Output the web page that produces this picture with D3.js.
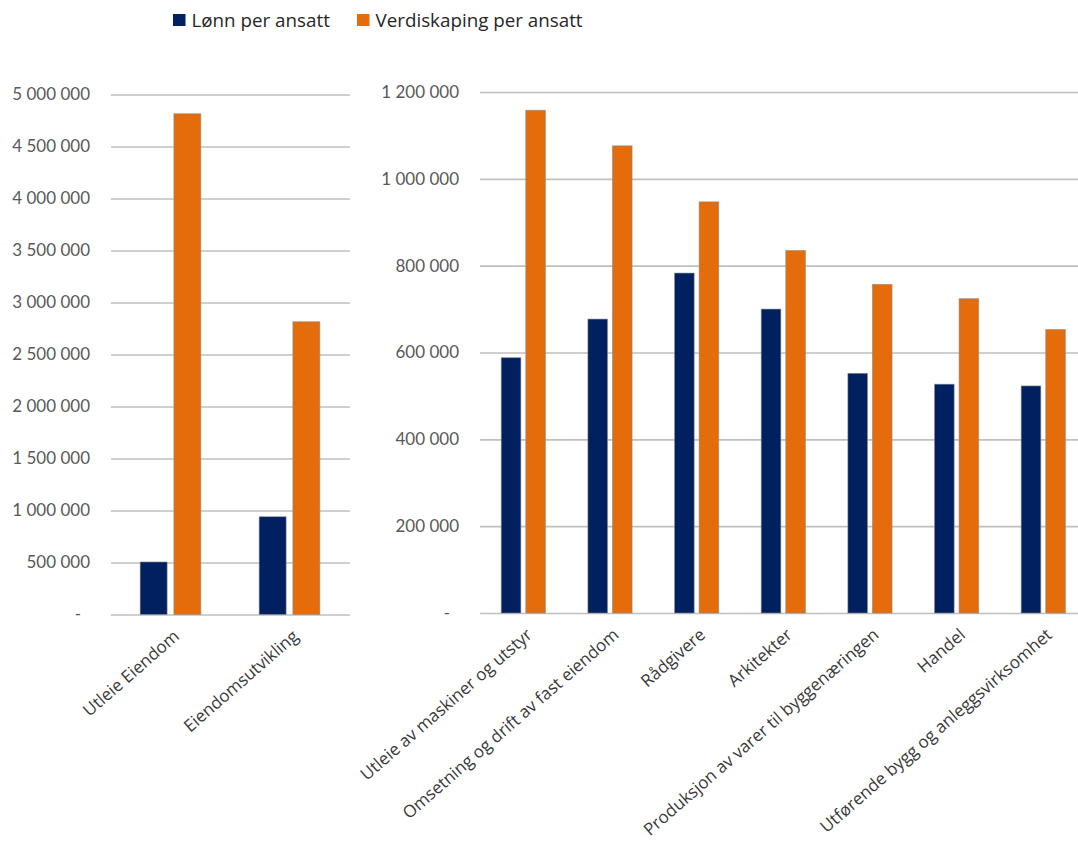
<!DOCTYPE html>
<html>
<head>
<meta charset="utf-8">
<script src="https://cdn.jsdelivr.net/npm/d3@7"></script>
<style>
  body { margin: 0; background: #fff; }
  text { font-family: Lato, 'Open Sans', sans-serif; }
  .cat, .legend text { font-family: 'Open Sans', Lato, sans-serif; }
</style>
</head>
<body>
<div id="chart"></div>
<script>
  // Data
  var seriesNames = ['Lønn per ansatt', 'Verdiskaping per ansatt'];
  var seriesColors = ['#002060', '#e46c0a'];

  var leftCategories = ['Utleie Eiendom', 'Eiendomsutvikling'];
  var leftLonn = [505000, 940000];
  var leftVerdi = [4815000, 2815000];
  var leftTicks = [0, 500000, 1000000, 1500000, 2000000, 2500000, 3000000, 3500000, 4000000, 4500000, 5000000];

  var rightCategories = ['Utleie av maskiner og utstyr', 'Omsetning og drift av fast eiendom', 'Rådgivere',
    'Arkitekter', 'Produksjon av varer til byggenæringen', 'Handel', 'Utførende bygg og anleggsvirksomhet'];
  var rightLonn = [588000, 677000, 783000, 700000, 552000, 527000, 523000];
  var rightVerdi = [1158000, 1076000, 947000, 835000, 757000, 724000, 653000];
  var rightTicks = [0, 200000, 400000, 600000, 800000, 1000000, 1200000];

  var width = 1078;
  var height = 847;

  var locale = d3.formatLocale({ decimal: ',', thousands: '\u00a0', grouping: [3], currency: ['', ''] });
  var fmt = locale.format(',d');

  var svg = d3.select('#chart').append('svg')
    .attr('width', width)
    .attr('height', height);

  function panel(opts) {
    var x0 = d3.scaleBand()
      .domain(opts.categories)
      .range([opts.left, opts.right])
      .paddingInner(0.49)
      .paddingOuter(0.245);

    var x1 = d3.scaleBand()
      .domain([0, 1])
      .range([0, x0.bandwidth()])
      .paddingInner(0.2);

    var y = d3.scaleLinear()
      .domain([0, opts.max])
      .range([opts.bottom, opts.top]);

    var g = svg.append('g');

    // Gridlines + tick labels
    var yAxis = g.append('g')
      .attr('transform', 'translate(' + opts.left + ',0)')
      .call(d3.axisLeft(y)
        .tickValues(opts.ticks)
        .tickSize(-(opts.gridRight - opts.left))
        .tickPadding(21)
        .tickFormat(function (d) { return d === 0 ? '-' : fmt(d); }));
    yAxis.select('.domain').remove();
    yAxis.selectAll('.tick line')
      .attr('stroke', '#bfbfbf')
      .attr('stroke-width', 1.6);
    yAxis.selectAll('.tick text')
      .attr('fill', '#595959')
      .style('font-size', '17px')
      .attr('dx', function (d) { return d === 0 ? -9 : 0; });

    // Bars
    var rows = opts.categories.map(function (c, i) {
      return { cat: c, values: [opts.lonn[i], opts.verdi[i]] };
    });

    var group = g.selectAll('.group')
      .data(rows)
      .enter()
      .append('g')
      .attr('class', 'group')
      .attr('transform', function (d) { return 'translate(' + x0(d.cat) + ',0)'; });

    group.selectAll('rect')
      .data(function (d) { return d.values; })
      .enter()
      .append('rect')
      .attr('x', function (d, i) { return x1(i); })
      .attr('y', function (d) { return y(d); })
      .attr('width', x1.bandwidth())
      .attr('height', function (d) { return y(0) - y(d); })
      .attr('fill', function (d, i) { return seriesColors[i]; })
      .attr('stroke', 'rgba(140,140,140,0.7)')
      .attr('stroke-width', 0.8);

    // Category labels
    g.selectAll('.cat')
      .data(opts.categories)
      .enter()
      .append('text')
      .attr('class', 'cat')
      .attr('transform', function (d) {
        return 'translate(' + (x0(d) + x0.bandwidth() / 2 + 6) + ',' + (opts.bottom + 19) + ') rotate(-41)';
      })
      .attr('text-anchor', 'end')
      .attr('dy', '0.35em')
      .attr('fill', '#3a3a3a')
      .style('font-size', '17px')
      .text(function (d) { return d; });
  }

  panel({
    categories: leftCategories, lonn: leftLonn, verdi: leftVerdi, ticks: leftTicks,
    max: 5000000, left: 111, right: 349, gridRight: 350, top: 94.5, bottom: 614.5
  });

  panel({
    categories: rightCategories, lonn: rightLonn, verdi: rightVerdi, ticks: rightTicks,
    max: 1200000, left: 480, right: 1086.6, gridRight: 1086, top: 92, bottom: 613
  });

  // Legend
  var legendX = [173, 357];
  var legend = svg.append('g')
    .attr('class', 'legend')
    .selectAll('g')
    .data(seriesNames)
    .enter()
    .append('g')
    .attr('transform', function (d, i) { return 'translate(' + legendX[i] + ',14)'; });

  legend.append('rect')
    .attr('width', 12.5)
    .attr('height', 12)
    .attr('fill', function (d, i) { return seriesColors[i]; });

  legend.append('text')
    .attr('x', 18.5)
    .attr('y', 12.5)
    .attr('fill', '#262626')
    .style('font-size', '18.8px')
    .text(function (d) { return d; });
</script>
</body>
</html>
